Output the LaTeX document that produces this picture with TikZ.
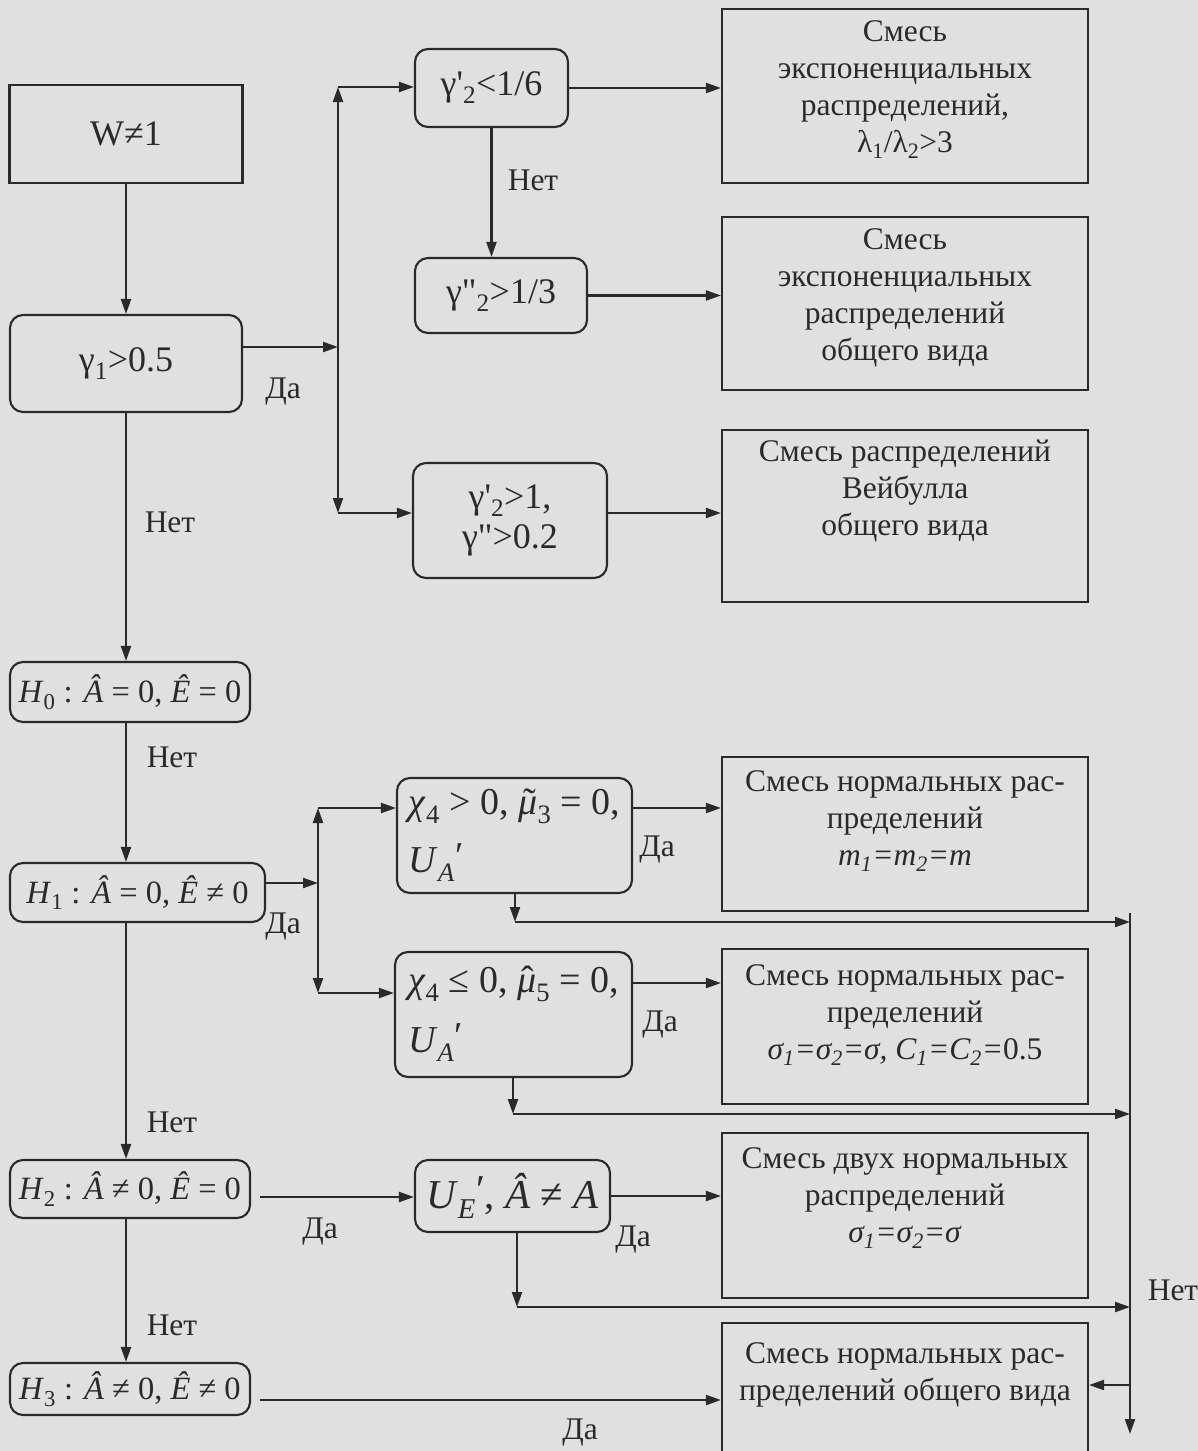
\documentclass[tikz,border=0pt]{standalone}
\usepackage{fontspec}
\setmainfont{Liberation Serif}
\usetikzlibrary{arrows.meta}
\definecolor{ink}{RGB}{42,42,42}
\definecolor{paper}{RGB}{224,224,224}
\newcommand\mytfont{\fontsize{31.5}{37}\selectfont}
\newcommand\mymfont{\fontsize{36}{52}\selectfont}
\newcommand\myhfont{\fontsize{32.5}{40}\selectfont}
\newcommand\mytilmu{\ooalign{\textit{μ}\cr\hidewidth\kern0.08em˜\hidewidth\cr}}
\newcommand\myhatmu{\ooalign{\textit{μ}\cr\hidewidth\kern0.08em ˆ\hidewidth\cr}}
\newcommand\myprime{\raisebox{0.12em}{′}}
\newcommand\myua{\textit{U}\textsubscript{\textit{A}}\myprime}
\begin{document}
\begin{tikzpicture}[x=1pt,y=-1pt,
  every node/.style={text=ink, inner sep=0pt},
  base/.style={draw=ink, line width=2.1pt, anchor=center},
  rbox/.style={base, minimum width=366pt},
  lbox/.style={base, rounded corners=13pt, font=\mymfont, align=center},
  hbox/.style={lbox, font=\myhfont},
  sbox/.style={base, font=\mymfont},
  txt/.style={font=\mytfont, align=center},
  lab/.style={font=\mytfont},
  arr/.style={draw=ink, line width=2.1pt, -{Triangle[length=15pt,width=10pt]}}]
\useasboundingbox[fill=paper] (0,0) rectangle (1198,1451);

% left column
\node[sbox, minimum width=233pt, minimum height=98pt] (W) at (126,134) {W≠1};
\node[lbox, minimum width=232pt, minimum height=97pt] (G1) at (126,363.5) {γ\textsubscript{1}>0.5};
\node[hbox, minimum width=240pt, minimum height=60pt] (H0) at (130,692) {\textit{H}\textsubscript{0} : \textit{Â} = 0, \textit{Ê} = 0};
\node[hbox, minimum width=255pt, minimum height=59pt] (H1) at (137.5,892.5) {\textit{H}\textsubscript{1} : \textit{Â} = 0, \textit{Ê} ≠ 0};
\node[hbox, minimum width=240pt, minimum height=58pt] (H2) at (130,1189) {\textit{H}\textsubscript{2} : \textit{Â} ≠ 0, \textit{Ê} = 0};
\node[hbox, minimum width=240pt, minimum height=52pt] (H3) at (130,1389) {\textit{H}\textsubscript{3} : \textit{Â} ≠ 0, \textit{Ê} ≠ 0};

% middle column
\node[lbox, minimum width=153pt, minimum height=78pt] (C1) at (491.5,88) {γ\textquotesingle\textsubscript{2}<1/6};
\node[lbox, minimum width=172pt, minimum height=75pt] (C2) at (501,295.5) {γ\textquotedbl\textsubscript{2}>1/3};
\node[lbox, minimum width=194pt, minimum height=115pt, font=\fontsize{36}{40}\selectfont] (C3) at (510,520.5) {γ\textquotesingle\textsubscript{2}>1,\\γ\textquotedbl>0.2};
\node[lbox, minimum width=235pt, minimum height=115pt, align=left, font=\fontsize{38}{58}\selectfont] (C4) at (514.5,835.5) {\textit{χ}\textsubscript{4} > 0, \mytilmu\textsubscript{3} = 0,\\\myua};
\node[lbox, minimum width=237pt, minimum height=125pt, align=left, font=\fontsize{38}{60}\selectfont] (C5) at (513.5,1014.5) {\textit{χ}\textsubscript{4} ≤ 0, \myhatmu\textsubscript{5} = 0,\\\myua};
\node[lbox, minimum width=195pt, minimum height=72pt, font=\fontsize{41}{44}\selectfont] (C6) at (512.5,1196) {\textit{U}\textsubscript{\textit{E}}\myprime, \textit{Â} ≠ \textit{A}};

% right column boxes
\node[rbox, minimum height=174pt] (R1) at (905,96) {};
\node[rbox, minimum height=173pt] (R2) at (905,303.5) {};
\node[rbox, minimum height=172pt] (R3) at (905,516) {};
\node[rbox, minimum height=154pt] (R4) at (905,834) {};
\node[rbox, minimum height=155pt] (R5) at (905,1026.5) {};
\node[rbox, minimum height=165pt] (R6) at (905,1215.5) {};
\node[rbox, minimum height=140pt] (R7) at (905,1393) {};

\node[txt] (R1t) at (905,90) {Смесь\\экспоненциальных\\распределений,\\λ\textsubscript{1}/λ\textsubscript{2}>3};
\node[txt] (R2t) at (905,298) {Смесь\\экспоненциальных\\распределений\\общего вида};
\node[txt] (R3t) at (905,491) {Смесь распределений\\Вейбулла\\общего вида};
\node[txt] (R4t) at (905,821) {Смесь нормальных рас-\\пределений\\\textit{m\textsubscript{1}=m\textsubscript{2}=m}};
\node[txt] (R5t) at (905,1015) {Смесь нормальных рас-\\пределений\\\textit{σ\textsubscript{1}=σ\textsubscript{2}=σ, C\textsubscript{1}=C\textsubscript{2}=}0.5};
\node[txt] (R6t) at (905,1198) {Смесь двух нормальных\\распределений\\\textit{σ\textsubscript{1}=σ\textsubscript{2}=σ}};
\node[txt] (R7t) at (905,1375) {Смесь нормальных рас-\\пределений общего вида};

% junction coordinates
\coordinate (V1t) at (338,87);
\coordinate (V1m) at (338,347);
\coordinate (V1b) at (338,513);
\coordinate (V2t) at (318,808);
\coordinate (V2m) at (318,883);
\coordinate (V2b) at (318,993);
\coordinate (V3t) at (1130,913);
\coordinate (V3b) at (1130,1434);
\coordinate (K4) at (515,922);
\coordinate (K5) at (513,1114);
\coordinate (K6) at (517,1307);
\coordinate (K7) at (1130,1385);
\coordinate (K2) at (260,1197);
\coordinate (K3) at (260,1400);
\coordinate (K5o) at (632,983);

% connectors
\draw[arr] (W.south) -- (G1.north);
\draw[arr] (G1.east |- V1m) -- (V1m);
\draw[arr] (V1m) -- (V1t);
\draw[arr] (V1t) -- (V1t -| C1.west);
\draw[arr] (V1m) -- (V1b);
\draw[arr] (V1b) -- (V1b -| C3.west);
\draw[arr] (C1.east) -- (C1.east -| R1.west);
\draw[arr] (C1.south) -- (C1.south |- C2.north);
\draw[arr] (C2.east) -- (C2.east -| R2.west);
\draw[arr] (C3.east |- V1b) -- (V1b -| R3.west);

\draw[arr] (G1.south) -- (H0.north -| G1.south);
\draw[arr] (H0.south -| G1.south) -- (H1.north -| G1.south);
\draw[arr] (H1.south -| G1.south) -- (H2.north -| G1.south);
\draw[arr] (H2.south -| G1.south) -- (H3.north -| G1.south);

\draw[arr] (H1.east |- V2m) -- (V2m);
\draw[arr] (V2m) -- (V2t);
\draw[arr] (V2t) -- (V2t -| C4.west);
\draw[arr] (V2m) -- (V2b);
\draw[arr] (V2b) -- (V2b -| C5.west);
\draw[arr] (C4.east |- V2t) -- (V2t -| R4.west);
\draw[arr] (K5o) -- (K5o -| R5.west);

\draw[arr] (C4.south -| K4) -- (K4);
\draw[arr] (K4) -- (K4 -| V3t);
\draw[arr] (C5.south -| K5) -- (K5);
\draw[arr] (K5) -- (K5 -| V3t);
\draw[arr] (C6.south -| K6) -- (K6);
\draw[arr] (K6) -- (K6 -| V3t);
\draw[arr] (V3t) -- (V3b);
\draw[arr] (K7) -- (K7 -| R7.east);

\draw[arr] (K2) -- (K2 -| C6.west);
\draw[arr] (C6.east) -- (C6.east -| R6.west);
\draw[arr] (K3) -- (K3 -| R7.west);

% labels
\node[lab] (l1) at (283,392) {Да};
\node[lab] (l2) at (170,522) {Нет};
\node[lab] (l3) at (533,180) {Нет};
\node[lab] (l4) at (172,757) {Нет};
\node[lab] (l5) at (283,927) {Да};
\node[lab] (l6) at (657,850) {Да};
\node[lab] (l7) at (660,1025) {Да};
\node[lab] (l8) at (172,1122) {Нет};
\node[lab] (l9) at (320,1232) {Да};
\node[lab] (l10) at (633,1240) {Да};
\node[lab] (l11) at (1173,1290) {Нет};
\node[lab] (l12) at (172,1325) {Нет};
\node[lab] (l13) at (580,1433) {Да};
\end{tikzpicture}
\end{document}
